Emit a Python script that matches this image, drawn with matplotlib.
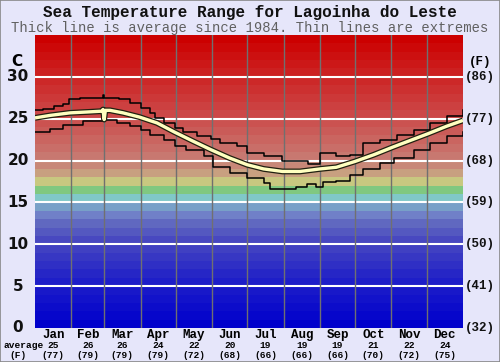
import numpy as np
import matplotlib
matplotlib.use("Agg")
import matplotlib.pyplot as plt
from matplotlib.transforms import blended_transform_factory
from matplotlib.patches import Rectangle

title = "Sea Temperature Range for Lagoinha do Leste"
subtitle = "Thick line is average since 1984. Thin lines are extremes"
months = ["Jan", "Feb", "Mar", "Apr", "May", "Jun", "Jul", "Aug", "Sep", "Oct", "Nov", "Dec"]
month_starts = [0, 31, 59, 90, 120, 151, 181, 212, 243, 273, 304, 334, 365]
avg_c = [25, 26, 26, 24, 22, 20, 19, 19, 19, 21, 22, 24]
avg_f = [77, 79, 79, 79, 72, 68, 66, 66, 66, 70, 72, 75]
c_ticks = [0, 5, 10, 15, 20, 25, 30]
f_ticks = [32, 41, 50, 59, 68, 77, 86]

avg_day = [0, 13, 30, 44, 57, 58, 59, 60, 64, 75, 89, 104, 119, 135, 150, 166, 181,
           195, 211, 226, 243, 257, 273, 289, 305, 320, 335, 351, 365]
avg_temp = [25.1, 25.4, 25.7, 25.8, 25.9, 26.1, 24.9, 26.0, 26.0, 25.7, 25.2, 24.5, 23.4,
            22.3, 21.3, 20.3, 19.5, 19.0, 18.7, 18.7, 19.0, 19.2, 19.9, 20.7, 21.6,
            22.4, 23.2, 24.1, 24.8]

hi_day = [0, 7, 16, 24, 29, 38, 57, 58, 59, 64, 72, 81, 90, 98, 102, 110, 119, 126, 138,
          150, 158, 172, 181, 195, 211, 223, 233, 243, 257, 269, 280, 294, 309, 323,
          337, 351, 365]
hi_temp = [26.0, 26.2, 26.5, 26.8, 27.4, 27.5, 27.5, 27.8, 27.5, 27.5, 27.3, 26.9, 26.3,
           25.7, 25.1, 24.5, 23.9, 23.4, 22.9, 22.6, 22.1, 21.7, 20.9, 20.5, 20.0, 20.0,
           19.6, 20.9, 20.5, 20.7, 22.1, 22.5, 23.1, 23.7, 24.5, 25.3, 26.0]

lo_day = [0, 13, 24, 41, 58, 70, 81, 90, 98, 110, 119, 129, 144, 152, 166, 181, 195, 200,
          212, 223, 232, 240, 246, 257, 269, 280, 294, 306, 323, 337, 351, 365]
lo_temp = [23.4, 23.8, 24.2, 24.7, 24.8, 24.5, 24.1, 23.6, 23.1, 22.5, 21.7, 21.3, 20.5,
           19.2, 18.5, 17.9, 17.3, 16.6, 16.6, 16.9, 17.2, 16.9, 17.4, 17.6, 18.3, 19.0,
           19.7, 20.3, 21.3, 22.1, 22.9, 23.4]

# colour bands per degree
anchors = {0: (0, 0, 204), 5: (30, 30, 200), 10: (72, 72, 192), 12: (96, 104, 192),
           13: (112, 128, 200), 14: (120, 160, 200), 15: (128, 200, 200),
           16: (128, 200, 128), 17: (200, 200, 128), 18: (200, 160, 128),
           19: (200, 136, 120), 20: (200, 120, 112), 25: (204, 72, 72),
           30: (204, 32, 32), 34: (204, 0, 0)}
keys = sorted(anchors)

def band_color(t):
    r = [np.interp(t, keys, [anchors[k][i] for k in keys]) / 255 for i in range(3)]
    return tuple(r)

BG = "#e6e6fa"
fig = plt.figure(figsize=(5.0, 3.62), dpi=100, facecolor=BG)
ax = fig.add_axes([35 / 500, 34 / 362, 428 / 500, 293 / 362])
ax.set_xlim(0, 365)
ax.set_ylim(0, 35)
for t in range(35):
    ax.axhspan(t, t + 1, color=band_color(t), lw=0, zorder=0)
for c in c_ticks[1:]:
    ax.axhline(c, color="white", lw=1.5, zorder=1)
for d in month_starts[1:-1]:
    ax.axvline(d, color="#707070", lw=1, zorder=1)

ax.plot(hi_day, hi_temp, color="black", lw=1.1, drawstyle="steps-post", zorder=3)
ax.plot(lo_day, lo_temp, color="black", lw=1.1, drawstyle="steps-post", zorder=3)
ax.plot(avg_day, avg_temp, color="#202010", lw=4.2, zorder=4, solid_capstyle="butt")
ax.plot(avg_day, avg_temp, color="#ffffc0", lw=2.4, zorder=5, solid_capstyle="butt")

ax.set_xticks([])
ax.set_yticks([])
for s in ax.spines.values():
    s.set_visible(False)

mono = "Liberation Mono"
fig.text(0.5, 1 - 13 / 362, title, ha="center", va="center", family=mono,
         weight="bold", fontsize=11.5, color="#111111")
fig.text(0.5, 1 - 28 / 362, subtitle, ha="center", va="center", family=mono,
         fontsize=10, color="#606060")

ty = blended_transform_factory(fig.transFigure, ax.transData)
for c, f in zip(c_ticks, f_ticks):
    fig.text(18 / 500, c, str(c), transform=ty, ha="center", va="center",
             fontsize=11, family="DejaVu Sans", weight="bold", color="#111111")
    fig.text(480 / 500, c, "(%d)" % f, transform=ty, ha="center", va="center",
             fontsize=9, family=mono, weight="bold", color="#111111")
fig.text(17 / 500, 1 - 62 / 362, "C", ha="center", va="center", fontsize=11,
         family="DejaVu Sans", weight="bold")
fig.text(480 / 500, 1 - 62 / 362, "(F)", ha="center", va="center", fontsize=9,
         family=mono, weight="bold")

tx = blended_transform_factory(ax.transData, fig.transFigure)
for i, m in enumerate(months):
    mid = (month_starts[i] + month_starts[i + 1]) / 2
    ax.text(mid, 1 - 335 / 362, m, transform=tx, ha="center", va="center",
            family=mono, weight="bold", fontsize=9)
    ax.text(mid, 1 - 346 / 362, str(avg_c[i]), transform=tx, ha="center",
            va="center", family=mono, fontsize=6.8, weight="bold")
    ax.text(mid, 1 - 355 / 362, "(%d)" % avg_f[i], transform=tx, ha="center",
            va="center", family=mono, fontsize=6.8, weight="bold")
fig.text(24 / 500, 1 - 346 / 362, "average", ha="center", va="center",
         family=mono, fontsize=6.8, weight="bold")
fig.text(18 / 500, 1 - 355 / 362, "(F)", ha="center", va="center",
         family=mono, fontsize=6.8, weight="bold")

fig.patches.append(Rectangle((0, 0), 1, 1, transform=fig.transFigure, fill=False,
                             edgecolor="#888888", lw=1.2))
fig.savefig("out.png", dpi=100, facecolor=BG)
